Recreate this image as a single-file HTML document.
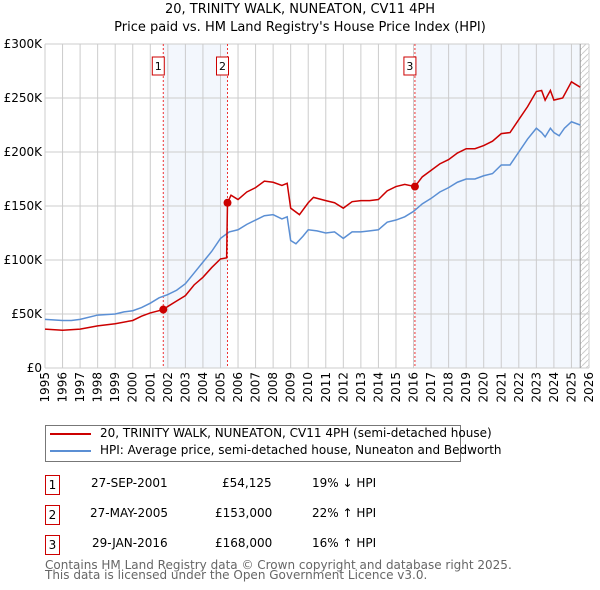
<!DOCTYPE html>
<html><head><meta charset="utf-8"><style>
body{margin:0;background:#fff;font-family:"DejaVu Sans","Liberation Sans",sans-serif;}
#w{position:relative;width:600px;height:590px;overflow:hidden}
.t{position:absolute;font-size:12px;color:#000;white-space:nowrap}
.box{position:absolute;border:1px solid #c00;width:13px;height:18px;font-size:12px;text-align:center;line-height:18px}
</style></head><body><div id="w">
<div class="t" style="left:0;width:600px;text-align:center;top:2px;font-size:13px">20, TRINITY WALK, NUNEATON, CV11 4PH</div>
<div class="t" style="left:0;width:600px;text-align:center;top:20px;font-size:13px">Price paid vs. HM Land Registry's House Price Index (HPI)</div>
<svg id="s" width="600" height="420" style="position:absolute;left:0;top:0"></svg>
<div style="position:absolute;left:45px;top:425px;width:414px;height:35px;border:1px solid #777"></div>
<div style="position:absolute;left:50px;top:433px;width:41px;height:2px;background:#c00"></div>
<div class="t" style="left:100px;top:426px">20, TRINITY WALK, NUNEATON, CV11 4PH (semi-detached house)</div>
<div style="position:absolute;left:50px;top:450px;width:41px;height:2px;background:#5b8fd4"></div>
<div class="t" style="left:100px;top:443px">HPI: Average price, semi-detached house, Nuneaton and Bedworth</div>
<div class="box" style="left:45px;top:475px">1</div>
<div class="t" style="left:91px;top:476px">27-SEP-2001</div>
<div class="t" style="left:222px;top:476px">£54,125</div>
<div class="t" style="left:312px;top:476px">19% ↓ HPI</div>
<div class="box" style="left:45px;top:505px">2</div>
<div class="t" style="left:90px;top:506px">27-MAY-2005</div>
<div class="t" style="left:215px;top:506px">£153,000</div>
<div class="t" style="left:312px;top:506px">22% ↑ HPI</div>
<div class="box" style="left:45px;top:535px">3</div>
<div class="t" style="left:92px;top:536px">29-JAN-2016</div>
<div class="t" style="left:215px;top:536px">£168,000</div>
<div class="t" style="left:312px;top:536px">16% ↑ HPI</div>
<div class="t" style="left:45px;top:560px;color:#666;line-height:10px">Contains HM Land Registry data © Crown copyright and database right 2025.<br>This data is licensed under the Open Government Licence v3.0.</div>
</div>
<script>
const hpiX=[1995,1996,1996.5,1997,1998,1999,1999.5,2000,2000.5,2001,2001.5,2002,2002.5,2003,2003.5,2004,2004.5,2005,2005.5,2006,2006.5,2007,2007.5,2008,2008.5,2008.8,2009,2009.3,2009.7,2010,2010.5,2011,2011.5,2012,2012.5,2013,2013.5,2014,2014.5,2015,2015.5,2016,2016.5,2017,2017.5,2018,2018.5,2019,2019.5,2020,2020.5,2021,2021.5,2022,2022.5,2023,2023.3,2023.5,2023.8,2024,2024.3,2024.6,2025,2025.5];
const hpiY=[45,44,44,45,49,50,52,53,56,60,65,68,72,78,88,98,108,120,126,128,133,137,141,142,138,140,118,115,122,128,127,125,126,120,126,126,127,128,135,137,140,145,152,157,163,167,172,175,175,178,180,188,188,200,212,222,218,214,222,218,215,222,228,225];
const priceX=[1995,1996,1997,1998,1999,2000,2000.5,2001,2001.74,2002,2002.5,2003,2003.5,2004,2004.5,2005,2005.35,2005.4,2005.6,2006,2006.5,2007,2007.5,2008,2008.5,2008.8,2009,2009.5,2010,2010.3,2011,2011.5,2012,2012.5,2013,2013.5,2014,2014.5,2015,2015.5,2016.08,2016.5,2017,2017.5,2018,2018.5,2019,2019.5,2020,2020.5,2021,2021.5,2022,2022.5,2023,2023.3,2023.5,2023.8,2024,2024.5,2025,2025.5];
const priceY=[36,35,36,39,41,44,48,51,54.1,57,62,67,77,84,93,101,102,153,160,156,163,167,173,172,169,171,148,142,153,158,155,153,148,154,155,155,156,164,168,170,168,177,183,189,193,199,203,203,206,210,217,218,230,242,256,257,248,257,248,250,265,260];
const saleX=[2001.74,2005.4,2016.08];
const saleY=[54.125,153,168];
const yTicks=[0,50,100,150,200,250,300];
const yLabels=["£0","£50K","£100K","£150K","£200K","£250K","£300K"];
const X0=45,X1=589,Y0=368,Y1=44;
const xs=v=>X0+(v-1995)/31*(X1-X0), ys=v=>Y0-v/300*(Y0-Y1);
const s=document.getElementById('s'),NS='http://www.w3.org/2000/svg';
function add(tag,at,txt){const e=document.createElementNS(NS,tag);for(const k in at)e.setAttribute(k,at[k]);if(txt!=null)e.textContent=txt;s.appendChild(e);return e;}
let e;
e=add('rect',{x:xs(saleX[0]),y:Y1,width:xs(saleX[1])-xs(saleX[0]),height:Y0-Y1,fill:'#eef3fc',opacity:0.7});

e=add('rect',{x:xs(saleX[2]),y:Y1,width:xs(2025.5)-xs(saleX[2]),height:Y0-Y1,fill:'#eef3fc',opacity:0.7});

const d=add('defs',{});d.innerHTML='<pattern id="h" width="6" height="6" patternUnits="userSpaceOnUse"><path d="M0 6L6 0" stroke="#ccc"/></pattern>';
e=add('rect',{x:xs(2025.5),y:Y1,width:X1-xs(2025.5),height:Y0-Y1,fill:'url(#h)'});

for(let yr=1995;yr<=2026;yr++){
 e=add('line',{x1:xs(yr),x2:xs(yr),y1:Y1,y2:Y0,stroke:'#ccc'});
 
 const lx=xs(yr)+4,ly=Y0+4;
 e=add('text',{x:lx,y:ly,'text-anchor':'end','font-size':12,'font-family':'DejaVu Sans,sans-serif',transform:'rotate(-90 '+lx+' '+ly+')'},yr);
 
}
yTicks.forEach((t,i)=>{
 e=add('line',{x1:X0,x2:X1,y1:ys(t),y2:ys(t),stroke:'#ccc'});
 
 e=add('text',{x:X0-3,y:ys(t)+4,'text-anchor':'end','font-size':12,'font-family':'DejaVu Sans,sans-serif'},yLabels[i]);
 
});
e=add('line',{x1:xs(2025.5),x2:xs(2025.5),y1:Y1,y2:Y0,stroke:'#999'});

saleX.forEach((v,i)=>{
 e=add('line',{x1:xs(v),x2:xs(v),y1:Y1,y2:Y0,stroke:'#e33','stroke-dasharray':'2,2'});
 
 e=add('rect',{x:xs(v)-11,y:57,width:12,height:18,fill:'#fff',stroke:'#c00'});
 
 e=add('text',{x:xs(v)-5,y:70,'text-anchor':'middle','font-size':11,'font-family':'DejaVu Sans,sans-serif'},i+1);
 
});
e=add('polyline',{points:hpiX.map((v,i)=>xs(v)+','+ys(hpiY[i])).join(' '),fill:'none',stroke:'#5b8fd4','stroke-width':1.5});

e=add('polyline',{points:priceX.map((v,i)=>xs(v)+','+ys(priceY[i])).join(' '),fill:'none',stroke:'#c00','stroke-width':1.5});

saleX.forEach((v,i)=>{
 e=add('circle',{cx:xs(v),cy:ys(saleY[i]),r:4,fill:'#c00'});
 
});
</script></body></html>
